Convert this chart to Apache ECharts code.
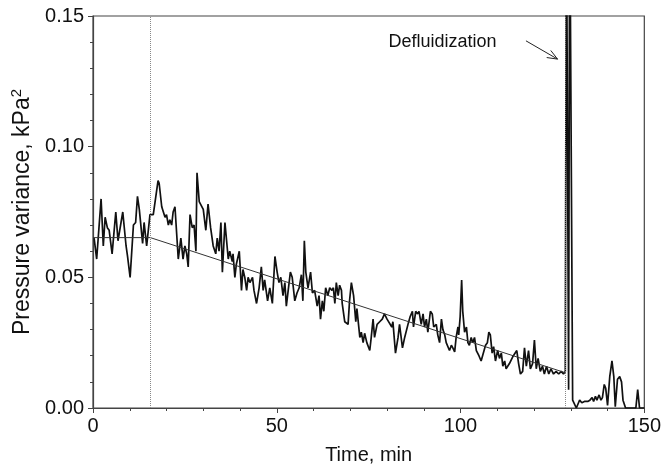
<!DOCTYPE html>
<html>
<head>
<meta charset="utf-8">
<script src="https://cdn.jsdelivr.net/npm/echarts@6/dist/echarts.min.js"></script>
<style>
  html, body { margin: 0; padding: 0; background: #fff; }
  #chart { width: 664px; height: 475px; }
</style>
</head>
<body>
<div id="chart"></div>
<script>
// measured pressure variance (kPa^2) against time (min)
const time = [
  0.3, 1.0, 2.2, 2.8, 3.3, 3.9, 4.4, 5.2, 6.2, 6.8, 8.1, 9.0, 9.4, 10.1, 11.0, 11.6, 12.1, 12.6, 13.5, 13.9,
  14.6, 15.5, 16.4, 17.7, 18.0, 18.7, 19.6, 20.0, 20.5, 20.9, 21.4, 21.8, 22.3, 23.2, 23.9, 24.5, 25.0, 25.5, 25.9, 26.4,
  27.0, 27.5, 28.0, 28.3, 28.9, 30.0, 30.7, 31.3, 32.0, 32.7, 33.4, 33.8, 34.3, 34.8, 35.2, 35.9, 36.8, 37.2, 37.9, 38.1,
  38.6, 39.0, 39.8, 40.4, 40.8, 41.3, 41.8, 42.2, 42.7, 43.4, 43.8, 44.5, 45.2, 45.8, 46.3, 46.7, 47.5, 48.1, 48.8, 49.5,
  50.1, 50.6, 51.1, 51.7, 52.2, 52.6, 53.1, 53.7, 54.2, 54.9, 55.5, 56.1, 56.7, 57.1, 57.5, 57.9, 58.5, 59.2, 59.7, 60.3,
  61.0, 61.5, 61.9, 62.4, 62.8, 63.3, 63.9, 64.4, 65.0, 65.4, 65.8, 66.2, 66.7, 67.1, 67.6, 67.8, 68.5, 69.4, 69.8, 70.3,
  70.9, 71.5, 71.8, 72.6, 73.0, 73.5, 73.9, 74.5, 75.3, 75.7, 76.2, 76.6, 77.3, 78.0, 78.7, 79.3, 80.0, 80.5, 81.3, 81.6,
  82.3, 83.0, 83.4, 84.2, 84.8, 85.7, 86.3, 86.9, 87.2, 87.8, 88.3, 88.7, 89.3, 89.8, 90.2, 90.7, 91.1, 91.8, 92.3, 92.7,
  93.4, 93.8, 94.3, 94.8, 95.2, 95.7, 96.1, 96.6, 97.0, 97.5, 97.9, 98.4, 98.8, 99.3, 99.5, 99.9, 100.3, 100.6, 101.1, 101.6,
  102.0, 102.4, 102.9, 103.3, 103.8, 104.3, 105.0, 105.6, 106.1, 106.8, 107.3, 107.7, 108.1, 108.6, 109.0, 109.5, 110.1, 110.6, 111.1, 111.5,
  112.0, 112.4, 112.9, 113.3, 113.8, 114.2, 114.7, 115.3, 115.8, 116.3, 116.9, 117.4, 117.9, 118.5, 119.0, 119.6, 120.1, 120.6, 121.1, 121.7,
  122.3, 122.8, 123.4, 124.0, 124.6, 125.3, 126.0, 126.7, 127.4, 128.0, 128.5, 128.8, 129.4, 129.7, 130.5, 131.5, 132.1, 132.4, 133.0, 133.7,
  134.1, 134.6, 135.2, 135.8, 136.2, 136.7, 137.1, 137.7, 138.2, 138.6, 139.1, 139.5, 140.0, 140.6, 141.2, 141.7, 142.1, 142.7, 143.3, 143.8,
  144.2, 144.9, 147.7, 148.2, 148.7, 150.0
];
const variance = [
  0.065, 0.057, 0.080, 0.062, 0.073, 0.069, 0.068, 0.059, 0.075, 0.064, 0.075, 0.062, 0.058, 0.050, 0.070, 0.071, 0.081, 0.076, 0.063, 0.071,
  0.062, 0.074, 0.074, 0.087, 0.086, 0.077, 0.073, 0.074, 0.070, 0.072, 0.070, 0.075, 0.077, 0.057, 0.065, 0.057, 0.062, 0.059, 0.054, 0.074,
  0.069, 0.070, 0.060, 0.090, 0.079, 0.076, 0.068, 0.078, 0.069, 0.062, 0.059, 0.065, 0.060, 0.071, 0.052, 0.071, 0.057, 0.060, 0.056, 0.059,
  0.050, 0.055, 0.060, 0.045, 0.053, 0.050, 0.045, 0.050, 0.048, 0.050, 0.045, 0.040, 0.046, 0.054, 0.045, 0.049, 0.041, 0.046, 0.040, 0.058,
  0.052, 0.048, 0.050, 0.043, 0.048, 0.039, 0.039, 0.052, 0.050, 0.041, 0.044, 0.046, 0.051, 0.041, 0.064, 0.052, 0.046, 0.052, 0.044, 0.045,
  0.039, 0.043, 0.034, 0.041, 0.037, 0.046, 0.043, 0.046, 0.045, 0.046, 0.040, 0.048, 0.043, 0.047, 0.045, 0.040, 0.033, 0.032, 0.041, 0.048,
  0.043, 0.033, 0.038, 0.027, 0.029, 0.025, 0.0286, 0.025, 0.022, 0.027, 0.034, 0.027, 0.032, 0.033, 0.034, 0.036, 0.034, 0.034, 0.031, 0.033,
  0.021, 0.027, 0.032, 0.023, 0.027, 0.032, 0.035, 0.037, 0.031, 0.037, 0.036, 0.037, 0.032, 0.036, 0.031, 0.034, 0.029, 0.037, 0.036, 0.031,
  0.032, 0.028, 0.025, 0.034, 0.030, 0.028, 0.025, 0.025, 0.022, 0.024, 0.023, 0.0215, 0.027, 0.031, 0.028, 0.035, 0.049, 0.037, 0.029, 0.031,
  0.025, 0.024, 0.027, 0.025, 0.027, 0.022, 0.020, 0.018, 0.018, 0.024, 0.025, 0.029, 0.028, 0.021, 0.0235, 0.018, 0.022, 0.019, 0.021, 0.016,
  0.018, 0.015, 0.0145, 0.017, 0.0165, 0.0196, 0.020, 0.022, 0.017, 0.013, 0.014, 0.023, 0.016, 0.022, 0.015, 0.017, 0.026, 0.015, 0.019, 0.014,
  0.016, 0.013, 0.016, 0.013, 0.015, 0.013, 0.014, 0.013, 0.014, 0.013, 0.014, 0.2, 0.007, 0.2, 0.003, 0, 0.002, 0.003, 0.002, 0.0025,
  0.003, 0.0025, 0.003, 0.004, 0.0025, 0.0045, 0.003, 0.005, 0.003, 0.004, 0.009, 0.0075, 0.001, 0.012, 0.018, 0.012, 0.0005, 0.011, 0.012, 0.010,
  0.003, 0, 0, 0.007, 0, 0
];

// fitted trend: flat, then linear decay
const fitTime = [0, 15.6, 128.5];
const fitValue = [0.0652, 0.0652, 0.0135];

// dotted markers
const markerTime = [15.6, 128.5];

// annotation (data coordinates)
const noteText = 'Defluidization';
const notePos = [109.8, 0.140];
const arrowTail = [117.8, 0.1405];
const arrowHead = [126.4, 0.1335];

const xTicks = { min: 0, max: 150, interval: 50 };
const yTicks = { min: 0, max: 0.15, interval: 0.05 };

const font = 'Liberation Sans, Arial, sans-serif';
const chart = echarts.init(document.getElementById('chart'));

const option = {
  animation: false,
  grid: {
    left: 93, right: 19, top: 16, bottom: 67,
    show: true, borderColor: '#444', borderWidth: 1.2, backgroundColor: 'transparent'
  },
  xAxis: {
    type: 'value',
    min: xTicks.min, max: xTicks.max, interval: xTicks.interval,
    name: 'Time, min',
    nameLocation: 'middle',
    nameGap: 37,
    nameTextStyle: { fontFamily: font, fontSize: 20, color: '#111' },
    axisLine: { lineStyle: { color: '#444', width: 1.2 } },
    axisTick: { length: 5, lineStyle: { color: '#444' } },
    minorTick: { show: true, splitNumber: 5, length: 3, lineStyle: { color: '#444' } },
    splitLine: { show: false },
    axisLabel: { fontFamily: font, fontSize: 20, color: '#111', margin: 8 }
  },
  yAxis: {
    type: 'value',
    min: yTicks.min, max: yTicks.max, interval: yTicks.interval,
    name: 'Pressure variance, kPa{sup|2}',
    nameLocation: 'middle',
    nameGap: 50,
    nameRotate: 90,
    nameTextStyle: {
      fontFamily: font, fontSize: 23, color: '#111',
      rich: { sup: { fontFamily: font, fontSize: 15, color: '#111', padding: [0, 0, 11, 0] } }
    },
    axisLine: { show: true, lineStyle: { color: '#444', width: 1.2 } },
    axisTick: { show: true, length: 5, lineStyle: { color: '#444' } },
    minorTick: { show: true, splitNumber: 5, length: 3, lineStyle: { color: '#444' } },
    splitLine: { show: false },
    axisLabel: {
      fontFamily: font, fontSize: 20, color: '#111', margin: 9,
      formatter: (v) => v.toFixed(2)
    }
  },
  series: [
    {
      name: 'variance',
      type: 'line',
      showSymbol: false,
      clip: true,
      lineStyle: { color: '#111', width: 1.7 },
      data: time.map((t, i) => [t, variance[i]]),
      markLine: {
        silent: true,
        symbol: 'none',
        label: { show: false },
        lineStyle: { type: 'dotted', color: '#888', width: 1 },
        data: markerTime.map((t) => ({ xAxis: t }))
      },
      z: 3
    },
    {
      name: 'fit',
      type: 'line',
      showSymbol: false,
      lineStyle: { color: '#333', width: 1 },
      data: fitTime.map((t, i) => [t, fitValue[i]]),
      z: 4
    }
  ]
};

chart.setOption(option);

// annotation text and arrow placed through the axes
const p = (d) => chart.convertToPixel({ gridIndex: 0 }, d);
const tail = p(arrowTail);
const head = p(arrowHead);
const ang = Math.atan2(head[1] - tail[1], head[0] - tail[0]);
const wing = 11;
const spread = 0.38;
const w1 = [head[0] - wing * Math.cos(ang - spread), head[1] - wing * Math.sin(ang - spread)];
const w2 = [head[0] - wing * Math.cos(ang + spread), head[1] - wing * Math.sin(ang + spread)];
const notePx = p(notePos);

chart.setOption({
  graphic: [
    {
      type: 'text',
      x: notePx[0], y: notePx[1],
      style: {
        text: noteText, fontFamily: font, fontSize: 18, fill: '#111',
        textAlign: 'right', textVerticalAlign: 'middle'
      }
    },
    {
      type: 'polyline',
      shape: { points: [tail, head] },
      style: { stroke: '#222', lineWidth: 1, fill: null }
    },
    {
      type: 'polyline',
      shape: { points: [w1, head, w2] },
      style: { stroke: '#222', lineWidth: 1, fill: null }
    }
  ]
});
</script>
</body>
</html>
